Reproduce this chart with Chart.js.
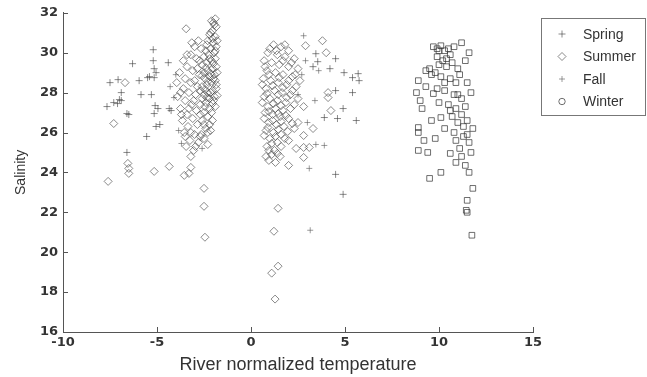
<!DOCTYPE html>
<html>
<head>
<meta charset="utf-8">
<script src="https://cdn.jsdelivr.net/npm/chart.js@4.4.1/dist/chart.umd.min.js"></script>
<style>
  html, body { margin: 0; padding: 0; background: #fff; }
  canvas { display: block; }
</style>
</head>
<body>
<canvas id="grafica" width="647" height="377"></canvas>
<script>
// [temperatura normalizada del río, salinidad] por estación
const spring = [
  [-7.5, 28.5], [-7.07, 28.65], [-6.3, 29.45], [-7.66, 27.3], [-7.3, 27.5], [-7.0, 27.65],
  [-6.9, 27.6], [-7.1, 27.45], [-6.9, 28.0], [-6.6, 26.95], [-6.5, 26.9], [-5.95, 28.6],
  [-5.5, 28.75], [-5.4, 28.8], [-5.85, 27.9], [-5.3, 27.9], [-5.2, 30.15], [-5.2, 29.6],
  [-4.4, 29.5], [-5.15, 29.2], [-5.05, 29.0], [-5.15, 28.75], [-5.1, 27.35], [-4.95, 27.2],
  [-5.15, 26.95], [-4.35, 27.2], [-4.25, 27.1], [-5.05, 26.3], [-4.85, 26.4], [-5.55, 25.8],
  [-6.6, 25.0], [3.45, 29.95], [3.55, 29.55], [4.5, 29.7], [4.95, 29.0], [5.4, 28.75],
  [5.7, 28.95], [5.75, 28.6], [4.5, 28.1], [5.4, 28.0], [4.9, 27.2], [3.9, 26.75],
  [4.6, 26.7], [5.6, 26.6], [4.5, 23.9], [4.9, 22.9], [3.3, 29.3], [4.2, 29.2]
];

const summer = [
  [-1.9, 31.7], [-2.0, 31.5], [-2.1, 31.6], [-1.85, 31.3], [-2.05, 31.1], [-2.2, 30.9],
  [-1.9, 30.8], [-2.3, 30.6], [-2.0, 30.5], [-1.85, 30.3], [-2.15, 30.2], [-2.4, 30.1],
  [-1.95, 30.0], [-2.25, 29.9], [-2.5, 29.8], [-1.9, 29.7], [-2.1, 29.6], [-2.35, 29.5],
  [-2.6, 29.4], [-1.85, 29.3], [-2.05, 29.2], [-2.3, 29.1], [-2.5, 29.0], [-1.95, 28.9],
  [-2.2, 28.8], [-2.45, 28.7], [-1.9, 28.6], [-2.1, 28.5], [-2.35, 28.4], [-2.6, 28.3],
  [-1.85, 28.2], [-2.05, 28.1], [-2.3, 28.0], [-2.5, 27.9], [-1.95, 27.8], [-2.2, 27.7],
  [-2.0, 27.6], [-2.4, 27.5], [-2.7, 27.4], [-2.2, 27.2], [-2.5, 27.0], [-2.3, 26.8],
  [-2.6, 26.6], [-2.2, 26.4], [-2.4, 26.2], [-2.3, 26.0], [-2.5, 25.7],
  [-1.95, 31.4], [-2.15, 31.0], [-1.8, 30.6], [-2.05, 30.7], [-2.35, 30.4], [-1.9, 30.1],
  [-2.2, 29.7], [-2.0, 29.45], [-2.4, 29.25], [-1.8, 29.0], [-2.15, 28.95], [-2.6, 28.85],
  [-2.0, 28.7], [-2.3, 28.55], [-1.85, 28.4], [-2.45, 28.15], [-2.15, 28.0], [-1.8, 27.85],
  [-2.35, 27.75], [-2.05, 27.45], [-2.6, 27.7], [-1.9, 27.3], [-2.45, 27.3], [-2.1, 27.0],
  [-2.7, 26.9], [-2.05, 26.6], [-2.5, 26.4], [-2.15, 26.1], [-2.65, 25.9], [-2.3, 25.4],
  [-3.45, 31.2], [-3.0, 30.3], [-2.8, 30.6], [-3.2, 29.9], [-3.6, 29.6], [-2.9, 29.7],
  [-3.4, 29.3], [-3.8, 29.0], [-3.1, 29.1], [-2.75, 28.9], [-3.5, 28.7], [-3.95, 28.5],
  [-3.2, 28.5], [-2.85, 28.3], [-3.6, 28.2], [-3.3, 28.0], [-3.9, 27.8], [-2.95, 27.9],
  [-3.5, 27.6], [-3.15, 27.4], [-3.75, 27.2], [-2.9, 27.1], [-3.4, 26.9], [-3.65, 26.6],
  [-3.1, 26.7], [-2.85, 26.4], [-3.35, 26.3], [-3.55, 26.0], [-3.0, 25.9], [-3.25, 25.6],
  [-2.8, 25.5], [-3.45, 25.3], [-3.05, 25.1], [-2.7, 25.8], [-3.2, 24.8],
  [-2.75, 29.6], [-2.65, 30.2], [-2.85, 29.2], [-2.7, 28.1], [-3.0, 28.6], [-3.05, 27.6],
  [-3.3, 27.2], [-3.2, 26.0], [-3.5, 25.8], [-2.95, 25.3], [-3.75, 28.0], [-3.7, 26.9],
  [-3.4, 29.9], [-3.15, 30.5],
  [-6.7, 28.5], [-7.3, 26.45], [-6.55, 24.45], [-6.5, 24.2], [-6.5, 23.95], [-7.6, 23.55],
  [-5.15, 24.05], [-4.35, 24.3], [-3.55, 23.85], [-3.2, 24.25], [-3.3, 23.95], [-2.5, 23.2],
  [-2.5, 22.3], [-2.45, 20.75],
  [1.2, 30.4], [1.6, 30.3], [2.0, 30.1], [0.9, 30.0], [1.4, 29.9], [1.8, 29.8],
  [2.3, 29.7], [0.7, 29.6], [1.1, 29.5], [1.5, 29.4], [2.0, 29.3], [2.5, 29.2],
  [0.85, 29.1], [1.3, 29.0], [1.7, 28.9], [2.2, 28.8], [0.65, 28.7], [1.05, 28.6],
  [1.45, 28.5], [1.9, 28.4], [2.4, 28.3], [0.8, 28.2], [1.25, 28.1], [1.65, 28.0],
  [2.1, 27.9], [0.7, 27.8], [1.0, 27.7], [1.4, 27.6], [1.85, 27.5], [2.3, 27.4],
  [0.9, 27.3], [1.3, 27.2], [1.7, 27.1], [0.75, 27.0], [1.15, 26.9], [1.55, 26.8],
  [2.0, 26.7], [0.95, 26.5], [1.35, 26.4], [1.75, 26.3], [0.8, 26.1], [1.2, 26.0],
  [1.6, 25.9], [1.0, 25.7], [1.4, 25.5], [0.85, 25.3], [1.25, 25.1], [1.1, 24.9],
  [1.55, 24.8], [2.0, 25.6], [2.3, 26.2], [2.6, 28.6], [2.8, 27.3], [2.9, 30.35],
  [1.0, 30.2], [1.8, 30.4], [1.35, 30.1], [0.75, 29.3], [1.7, 29.6], [2.15, 29.5],
  [0.95, 28.9], [1.5, 28.75], [2.0, 28.6], [0.6, 28.4], [1.15, 28.35], [1.7, 28.25],
  [2.2, 28.1], [0.85, 27.95], [1.45, 27.9], [1.9, 27.75], [0.6, 27.5], [1.2, 27.45],
  [1.6, 27.35], [2.1, 27.2], [0.95, 27.05], [1.45, 26.95], [1.85, 26.85], [0.7, 26.7],
  [1.15, 26.6], [1.6, 26.55], [2.2, 26.45], [0.9, 26.25], [1.45, 26.15], [1.95, 26.05],
  [0.7, 25.85], [1.3, 25.8], [1.8, 25.7], [1.1, 25.45], [1.6, 25.3], [0.95, 25.1],
  [1.4, 24.95], [1.3, 24.5], [0.8, 24.8], [2.35, 28.9], [2.5, 27.7], [2.4, 25.2],
  [3.8, 30.6], [4.0, 30.0], [4.1, 28.0], [4.1, 27.75], [4.25, 27.1], [3.3, 26.2],
  [2.5, 26.5], [2.8, 25.85], [2.8, 25.25], [3.1, 25.25], [2.8, 24.75], [2.0, 24.35],
  [0.95, 24.6], [1.44, 22.2], [1.22, 21.05], [1.44, 19.3], [1.1, 18.95], [1.28, 17.65]
];

const fall = [
  [-4.1, 27.75], [-3.7, 25.45], [-4.0, 28.9], [-4.3, 28.3], [-3.85, 26.1], [-2.6, 25.2],
  [3.0, 26.5], [2.9, 29.6], [3.6, 29.1], [3.45, 25.4], [3.9, 25.35], [3.1, 24.2],
  [2.8, 30.85], [3.15, 21.1], [2.5, 27.9], [3.4, 27.6], [2.7, 28.9]
];

const winter = [
  [9.7, 30.3], [9.9, 30.2], [10.1, 30.35], [10.3, 30.1], [10.5, 30.2], [10.6, 29.9],
  [11.2, 30.5], [11.6, 30.0], [9.9, 29.8], [10.2, 29.6], [10.0, 29.4], [9.5, 29.2],
  [9.3, 29.1], [10.4, 29.3], [10.7, 29.5], [11.0, 29.2], [11.4, 29.6], [9.6, 28.9],
  [10.1, 28.8], [10.6, 28.7], [11.1, 28.9], [11.5, 28.5], [8.9, 28.6], [9.3, 28.3],
  [8.8, 28.0], [9.7, 27.95], [10.3, 28.1], [10.8, 27.9], [11.2, 27.7], [11.7, 28.0],
  [10.0, 27.5], [10.5, 27.4], [10.9, 27.2], [11.4, 27.3], [9.1, 27.2], [10.1, 26.75],
  [9.6, 26.6], [10.7, 26.8], [11.0, 26.5], [11.5, 26.6], [11.8, 26.2], [8.9, 26.25],
  [8.9, 26.0], [9.2, 25.6], [10.3, 26.2], [10.8, 26.0], [11.3, 25.8], [11.6, 25.5],
  [8.9, 25.1], [10.6, 24.95], [11.1, 25.2], [11.7, 25.0], [11.4, 24.35], [10.1, 24.0],
  [9.5, 23.7], [11.8, 23.2], [11.5, 22.6], [11.45, 22.1], [11.5, 22.0], [11.75, 20.85],
  [9.4, 25.0], [10.0, 30.1], [10.8, 30.3], [10.4, 29.7], [9.8, 29.0], [10.9, 28.5],
  [10.3, 28.5], [9.9, 28.2], [11.0, 27.9], [10.6, 27.1], [11.2, 26.9], [11.3, 26.3],
  [10.9, 25.6], [11.5, 25.9], [11.2, 24.8], [10.9, 24.5], [9.8, 25.7], [11.6, 24.0],
  [9.0, 27.6]
];

const xTicks = [-10, -5, 0, 5, 10, 15];
const yTicks = [16, 18, 20, 22, 24, 26, 28, 30, 32];

const toPoints = arr => arr.map(p => ({ x: p[0], y: p[1] }));

const colorMarca = 'rgba(60,60,60,0.6)';
const colorTexto = '#333';

// ticks hacia dentro, al estilo de MATLAB
const ticksInternos = {
  id: 'ticksInternos',
  afterDraw(chart) {
    const { ctx, chartArea, scales } = chart;
    ctx.save();
    ctx.strokeStyle = '#555';
    ctx.lineWidth = 1;
    ctx.beginPath();
    xTicks.forEach(v => {
      const px = Math.round(scales.x.getPixelForValue(v)) + 0.5;
      ctx.moveTo(px, chartArea.bottom);
      ctx.lineTo(px, chartArea.bottom - 5);
    });
    yTicks.forEach(v => {
      const py = Math.round(scales.y.getPixelForValue(v)) + 0.5;
      ctx.moveTo(chartArea.left, py);
      ctx.lineTo(chartArea.left + 5, py);
    });
    ctx.stroke();
    ctx.restore();
  }
};

// leyenda con recuadro arriba a la derecha
const leyendaCaja = {
  id: 'leyendaCaja',
  afterDraw(chart) {
    const { ctx } = chart;
    const x0 = 541, y0 = 18, w = 104, h = 97;
    ctx.save();
    ctx.strokeStyle = '#777';
    ctx.lineWidth = 1;
    ctx.strokeRect(x0 + 0.5, y0 + 0.5, w, h);
    ctx.font = '14px "Liberation Sans", Arial, sans-serif';
    ctx.fillStyle = colorTexto;
    ctx.textBaseline = 'middle';
    chart.data.datasets.forEach((ds, i) => {
      const cy = y0 + 16 + i * 22.5;
      const cx = x0 + 21;
      const r = ds.pointRadius;
      ctx.strokeStyle = ds.borderColor;
      ctx.beginPath();
      if (ds.pointStyle === 'cross') {
        ctx.moveTo(cx - r, cy); ctx.lineTo(cx + r, cy);
        ctx.moveTo(cx, cy - r); ctx.lineTo(cx, cy + r);
      } else if (ds.pointStyle === 'rectRot') {
        ctx.moveTo(cx, cy - r); ctx.lineTo(cx + r, cy);
        ctx.lineTo(cx, cy + r); ctx.lineTo(cx - r, cy); ctx.closePath();
      } else {
        ctx.arc(cx, cy, r * 0.8, 0, Math.PI * 2);
      }
      ctx.stroke();
      ctx.fillText(ds.label, x0 + 42, cy + 1);
    });
    ctx.restore();
  }
};

const ctx = document.getElementById('grafica').getContext('2d');
new Chart(ctx, {
  type: 'scatter',
  data: {
    datasets: [
      { label: 'Spring', data: toPoints(spring), pointStyle: 'cross', pointRadius: 3.5,
        borderColor: colorMarca, backgroundColor: 'transparent', borderWidth: 1 },
      { label: 'Summer', data: toPoints(summer), pointStyle: 'rectRot', pointRadius: 4,
        borderColor: colorMarca, backgroundColor: 'transparent', borderWidth: 1 },
      { label: 'Fall', data: toPoints(fall), pointStyle: 'cross', pointRadius: 3,
        borderColor: 'rgba(90,90,90,0.6)', backgroundColor: 'transparent', borderWidth: 1 },
      { label: 'Winter', data: toPoints(winter), pointStyle: 'rect', pointRadius: 4,
        borderColor: 'rgba(50,50,50,0.7)', backgroundColor: 'transparent', borderWidth: 1 }
    ]
  },
  options: {
    responsive: false,
    animation: false,
    devicePixelRatio: 1,
    layout: { padding: { top: 12, right: 114, left: 0, bottom: 0 } },
    plugins: {
      legend: { display: false },
      tooltip: { enabled: false }
    },
    scales: {
      x: {
        type: 'linear',
        min: -10,
        max: 15,
        afterBuildTicks: s => { s.ticks = xTicks.map(v => ({ value: v })); },
        afterFit: s => { s.height = 45; },
        grid: { display: false, drawTicks: false },
        border: { display: true, color: '#555', width: 1 },
        ticks: {
          padding: 3,
          color: colorTexto,
          font: { family: '"DejaVu Sans", sans-serif', size: 13, weight: 'bold' },
          maxRotation: 0
        },
        title: {
          display: true,
          text: 'River normalized temperature',
          color: colorTexto,
          font: { family: '"Liberation Sans", Arial, sans-serif', size: 18 },
          padding: { top: 0, bottom: 1 }
        }
      },
      y: {
        type: 'linear',
        min: 16,
        max: 32,
        afterBuildTicks: s => { s.ticks = yTicks.map(v => ({ value: v })); },
        afterFit: s => { s.width = 63; },
        grid: { display: false, drawTicks: false },
        border: { display: true, color: '#555', width: 1 },
        ticks: {
          padding: 5,
          color: colorTexto,
          font: { family: '"DejaVu Sans", sans-serif', size: 13, weight: 'bold' }
        },
        title: {
          display: true,
          text: 'Salinity',
          color: colorTexto,
          font: { family: '"Liberation Sans", Arial, sans-serif', size: 14 },
          padding: { top: 13, bottom: 0 }
        }
      }
    }
  },
  plugins: [ticksInternos, leyendaCaja]
});
</script>
</body>
</html>
